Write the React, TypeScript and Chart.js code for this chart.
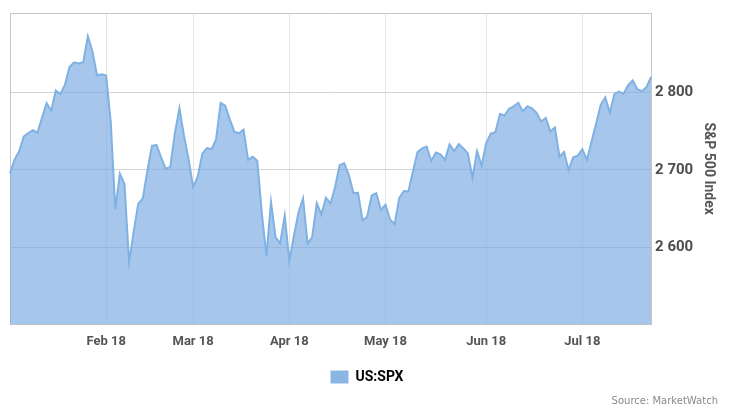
import React, { useEffect, useRef } from "react";
import { Chart, registerables } from "chart.js";

Chart.register(...registerables);

// Trading days (day of month) per month, 2018
const janDays = [2, 3, 4, 5, 8, 9, 10, 11, 12, 16, 17, 18, 19, 22, 23, 24, 25, 26, 29, 30, 31];
const febDays = [1, 2, 5, 6, 7, 8, 9, 12, 13, 14, 15, 16, 20, 21, 22, 23, 26, 27, 28];
const marDays = [1, 2, 5, 6, 7, 8, 9, 12, 13, 14, 15, 16, 19, 20, 21, 22, 23, 26, 27, 28, 29];
const aprDays = [2, 3, 4, 5, 6, 9, 10, 11, 12, 13, 16, 17, 18, 19, 20, 23, 24, 25, 26, 27, 30];
const mayDays = [1, 2, 3, 4, 7, 8, 9, 10, 11, 14, 15, 16, 17, 18, 21, 22, 23, 24, 25, 29, 30, 31];
const junDays = [1, 4, 5, 6, 7, 8, 11, 12, 13, 14, 15, 18, 19, 20, 21, 22, 25, 26, 27, 28, 29];
const julDays = [2, 3, 5, 6, 9, 10, 11, 12, 13, 16, 17, 18, 19, 20, 23, 24];

// US:SPX closes
const janValues = [2695.81, 2713.06, 2723.99, 2743.15, 2747.71, 2751.29, 2748.23, 2767.56, 2786.24, 2776.42, 2802.56, 2798.03, 2810.3, 2832.97, 2839.13, 2837.54, 2839.25, 2872.87, 2853.53, 2822.43, 2823.81];
const febValues = [2821.98, 2762.13, 2648.94, 2695.14, 2681.66, 2581.0, 2619.55, 2656.0, 2662.94, 2698.63, 2731.2, 2732.22, 2716.26, 2701.33, 2703.96, 2747.3, 2779.6, 2744.28, 2713.83];
const marValues = [2677.67, 2691.25, 2720.94, 2728.12, 2726.8, 2738.97, 2786.57, 2783.02, 2765.31, 2749.48, 2747.33, 2752.01, 2712.92, 2716.94, 2711.93, 2643.69, 2588.26, 2658.55, 2612.62, 2605.0, 2640.87];
const aprValues = [2581.88, 2614.45, 2644.69, 2662.84, 2604.47, 2613.16, 2656.87, 2642.19, 2663.99, 2656.3, 2677.84, 2706.39, 2708.64, 2693.13, 2670.14, 2670.29, 2634.56, 2639.4, 2666.94, 2669.91, 2648.05];
const mayValues = [2654.8, 2635.67, 2629.73, 2663.42, 2672.63, 2671.92, 2697.79, 2723.07, 2727.72, 2730.13, 2711.45, 2722.46, 2720.13, 2712.97, 2733.01, 2724.44, 2733.29, 2727.76, 2721.33, 2689.86, 2724.01, 2705.27];
const junValues = [2734.62, 2746.87, 2748.8, 2772.35, 2770.37, 2779.03, 2782.0, 2786.85, 2775.63, 2782.49, 2779.66, 2773.75, 2762.59, 2767.32, 2749.76, 2754.88, 2717.07, 2723.06, 2699.63, 2716.31, 2718.37];
const julValues = [2726.71, 2713.22, 2736.61, 2759.82, 2784.17, 2793.84, 2774.02, 2798.29, 2801.31, 2798.43, 2809.55, 2815.62, 2804.49, 2801.83, 2806.98, 2820.4];

const monthNames = ["Jan", "Feb", "Mar", "Apr", "May", "Jun", "Jul"];
const monthDays = [janDays, febDays, marDays, aprDays, mayDays, junDays, julDays];
const monthTickLabels = ["", "Feb 18", "Mar 18", "Apr 18", "May 18", "Jun 18", "Jul 18"];

const yTicks = [2600, 2700, 2800];
const seriesName = "US:SPX";
const axisTitle = "S&P 500 Index";
const sourceText = "Source: MarketWatch";

const labels: string[] = [];
const tickLabels: (string | null)[] = [];
monthDays.forEach((days, m) => {
  days.forEach((d, i) => {
    labels.push(`${monthNames[m]} ${d}, 2018`);
    tickLabels.push(i === 0 && monthTickLabels[m] ? monthTickLabels[m] : null);
  });
});
const values = [...janValues, ...febValues, ...marValues, ...aprValues, ...mayValues, ...junValues, ...julValues];

const fmt = (v: number) => String(v).replace(/\B(?=(\d{3})+(?!\d))/g, " ");

export default function App() {
  const ref = useRef<HTMLCanvasElement>(null);
  useEffect(() => {
    const frame = {
      id: "frame",
      beforeDatasetsDraw(chart: any) {
        const { ctx, chartArea: a } = chart;
        ctx.save();
        ctx.strokeStyle = "#c6c6c6";
        ctx.lineWidth = 1;
        ctx.beginPath();
        ctx.moveTo(a.left + 0.5, a.bottom);
        ctx.lineTo(a.left + 0.5, a.top + 0.5);
        ctx.lineTo(a.right, a.top + 0.5);
        ctx.stroke();
        ctx.restore();
      },
      afterDraw(chart: any) {
        const { ctx } = chart;
        ctx.save();
        ctx.font = "10px 'DejaVu Sans'";
        ctx.fillStyle = "#8a8a8a";
        ctx.textAlign = "right";
        ctx.textBaseline = "alphabetic";
        ctx.fillText(sourceText, 718, 404);
        ctx.restore();
      },
    };
    const chart = new Chart(ref.current!, {
      type: "line",
      data: {
        labels,
        datasets: [
          {
            label: seriesName,
            data: values,
            borderColor: "#7fb1e3",
            backgroundColor: "rgba(120,170,224,0.66)",
            borderWidth: 2,
            pointRadius: 0,
            tension: 0,
            fill: "start",
          },
        ],
      },
      options: {
        animation: false,
        responsive: true,
        maintainAspectRatio: false,
        layout: { padding: { left: 10, top: 10, right: 6, bottom: 16 } },
        plugins: {
          tooltip: { enabled: false },
          legend: {
            position: "bottom",
            labels: {
              boxWidth: 18,
              boxHeight: 13,
              padding: 10,
              color: "#333",
              font: { family: "Roboto", size: 14, weight: "bold" },
              generateLabels: () => [
                {
                  text: seriesName,
                  fillStyle: "#8bb6e3",
                  strokeStyle: "#8bb6e3",
                  lineWidth: 0,
                  datasetIndex: 0,
                  hidden: false,
                },
              ],
            },
          },
        },
        scales: {
          x: {
            type: "category",
            grid: { color: "#e6e6e6", drawTicks: false },
            border: { display: true, color: "#c6c6c6" },
            ticks: {
              autoSkip: false,
              maxRotation: 0,
              padding: 10,
              color: "#555",
              font: { family: "Roboto", size: 13, weight: "bold" },
              callback: (_v: any, i: number) => tickLabels[i],
            },
          },
          y: {
            position: "right",
            min: 2500,
            max: 2903,
            afterBuildTicks: (s: any) => {
              s.ticks = yTicks.map((v) => ({ value: v }));
            },
            grid: { color: "#d4d4d4", drawTicks: false },
            border: { display: true, color: "#c6c6c6" },
            ticks: {
              padding: 4,
              color: "#4d4d4d",
              font: { family: "Roboto", size: 15, weight: "bold" },
              callback: (v: any) => fmt(Number(v)),
            },
            title: {
              display: true,
              text: axisTitle,
              color: "#555",
              font: { family: "Roboto", size: 14, weight: "bold" },
              padding: { top: 7, bottom: 3 },
            },
          },
        },
      },
      plugins: [frame],
    });
    return () => chart.destroy();
  }, []);
  return (
    <div style={{ position: "absolute", left: 0, top: 0, width: 730, height: 410, background: "#fff" }}>
      <canvas ref={ref} />
    </div>
  );
}
